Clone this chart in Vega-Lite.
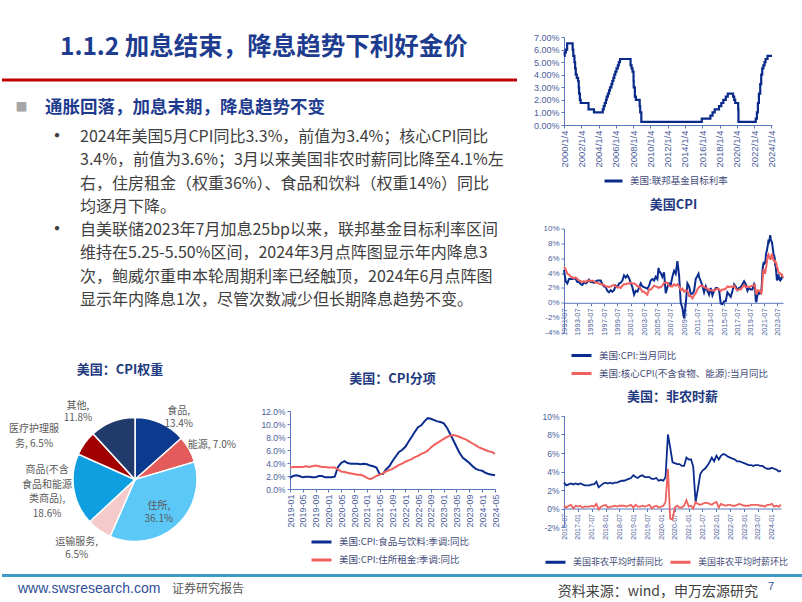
{
  "$schema": "https://vega.github.io/schema/vega-lite/v6.json",
  "background": "white",
  "padding": {"left": 0, "top": 33, "right": 0, "bottom": 0},
  "spacing": 4.5,
  "resolve": {"scale": {"color": "independent"}, "legend": {"color": "independent"}},
  "config": {
    "view": {"stroke": null},
    "font": "Noto Sans CJK SC",
    "axis": {"labelFont": "Liberation Sans", "labelColor": "#4B5D9A", "domainColor": "#5A78BE", "tickColor": "#5A78BE", "tickSize": 3, "grid": false, "labelPadding": 2, "labelOverlap": false, "labelFlush": false, "labelBound": false},
    "legend": {"labelFont": "Noto Sans CJK SC", "labelColor": "#3F4A78", "symbolType": "stroke", "symbolStrokeWidth": 3, "labelLimit": 300, "labelOffset": 6},
    "title": {"font": "Noto Sans CJK SC", "fontWeight": "bold", "color": "#1F3A80", "fontSize": 13}
  },
  "vconcat": [
    {
      "spacing": 14,
      "resolve": {"scale": {"color": "independent"}, "legend": {"color": "independent"}},
      "hconcat": [
        {
          "spacing": 50,
          "resolve": {"scale": {"color": "independent"}, "legend": {"color": "independent"}},
          "vconcat": [
            {
              "width": 515,
              "height": 277,
              "data": {"values": [
                {"line": 0, "kind": "heading", "text": "通胀回落，加息末期，降息趋势不变"},
                {"line": 1, "kind": "body", "first": true, "text": "2024年美国5月CPI同比3.3%，前值为3.4%；核心CPI同比"},
                {"line": 2, "kind": "body", "text": "3.4%，前值为3.6%；3月以来美国非农时薪同比降至4.1%左"},
                {"line": 3, "kind": "body", "text": "右，住房租金（权重36%）、食品和饮料（权重14%）同比"},
                {"line": 4, "kind": "body", "text": "均逐月下降。"},
                {"line": 5, "kind": "body", "first": true, "text": "自美联储2023年7月加息25bp以来，联邦基金目标利率区间"},
                {"line": 6, "kind": "body", "text": "维持在5.25-5.50%区间，2024年3月点阵图显示年内降息3"},
                {"line": 7, "kind": "body", "text": "次，鲍威尔重申本轮周期利率已经触顶，2024年6月点阵图"},
                {"line": 8, "kind": "body", "text": "显示年内降息1次，尽管次数减少但长期降息趋势不变。"}
              ]},
              "layer": [
                {"data": {"values": [{}]}, "mark": {"type": "rule", "color": "#C00000", "strokeWidth": 3}, "encoding": {"y": {"value": 43}}},
                {"data": {"values": [{}]}, "mark": {"type": "text", "align": "left", "baseline": "middle", "font": "Noto Sans CJK SC", "fontWeight": "bold", "fontSize": 24.5, "color": "#1E3C8F"}, "encoding": {"x": {"value": 58}, "y": {"value": 11}, "text": {"value": "1.1.2 加息结束，降息趋势下利好金价"}}},
                {
                  "transform": [{"filter": "datum.kind === 'heading'"}],
                  "mark": {"type": "text", "align": "left", "baseline": "middle", "font": "Noto Sans CJK SC", "fontWeight": "bold", "fontSize": 17.5, "color": "#1E3C8F", "dy": -7},
                  "encoding": {"x": {"value": 43}, "y": {"field": "line", "type": "quantitative", "scale": {"domain": [-3.337, 8.557], "reverse": true}, "axis": null}, "text": {"field": "text"}}
                },
                {
                  "transform": [{"filter": "datum.kind === 'heading'"}],
                  "mark": {"type": "text", "align": "center", "baseline": "middle", "font": "Noto Sans CJK SC", "fontSize": 12, "color": "#A6A6A6", "dy": -7},
                  "encoding": {"x": {"value": 19.5}, "y": {"field": "line", "type": "quantitative", "scale": {"domain": [-3.337, 8.557], "reverse": true}, "axis": null}, "text": {"value": "■"}}
                },
                {
                  "transform": [{"filter": "datum.first === true"}],
                  "mark": {"type": "text", "align": "center", "baseline": "middle", "font": "Noto Sans CJK SC", "fontSize": 20, "color": "#404040", "dy": -1},
                  "encoding": {"x": {"value": 55}, "y": {"field": "line", "type": "quantitative", "scale": {"domain": [-3.337, 8.557], "reverse": true}, "axis": null}, "text": {"value": "•"}}
                },
                {
                  "transform": [{"filter": "datum.kind === 'body'"}],
                  "mark": {"type": "text", "align": "left", "baseline": "middle", "font": "Noto Sans CJK SC", "fontSize": 16, "color": "#404040", "dy": -1},
                  "encoding": {"x": {"value": 78}, "y": {"field": "line", "type": "quantitative", "scale": {"domain": [-3.337, 8.557], "reverse": true}, "axis": null}, "text": {"field": "text"}}
                }
              ]
            },
            {
              "spacing": -8,
              "resolve": {"scale": {"color": "independent"}, "legend": {"color": "independent"}},
              "hconcat": [
                {
                  "width": 266,
                  "height": 138,
                  "title": {"text": "美国：CPI权重", "dx": -15, "offset": 0},
                  "data": {"values": [
                    {"idx": 1, "cat": "食品", "w": 13.4, "label": "食品,\n13.4%"},
                    {"idx": 2, "cat": "能源", "w": 7.0, "label": "能源, 7.0%"},
                    {"idx": 3, "cat": "住所", "w": 36.1, "label": "住所,\n36.1%"},
                    {"idx": 4, "cat": "运输服务", "w": 6.5, "label": "运输服务,\n6.5%"},
                    {"idx": 5, "cat": "商品(不含食品和能源类商品)", "w": 18.6, "label": "商品(不含\n食品和能源\n类商品),\n18.6%"},
                    {"idx": 6, "cat": "医疗护理服务", "w": 6.5, "label": "医疗护理服\n务, 6.5%"},
                    {"idx": 7, "cat": "其他", "w": 11.8, "label": "其他,\n11.8%"}
                  ]},
                  "encoding": {
                    "theta": {"field": "w", "type": "quantitative", "stack": true},
                    "order": {"field": "idx", "type": "quantitative"},
                    "x": {"value": 133},
                    "y": {"value": 69}
                  },
                  "layer": [
                    {
                      "mark": {"type": "arc", "outerRadius": 62, "stroke": "white", "strokeWidth": 1.5, "yOffset": -0.5},
                      "encoding": {"color": {"field": "cat", "type": "nominal", "legend": null, "scale": {"domain": ["食品", "能源", "住所", "运输服务", "商品(不含食品和能源类商品)", "医疗护理服务", "其他"], "range": ["#0B3A8E", "#E35B5B", "#5BC8F7", "#F4CACA", "#0F9FE0", "#A00000", "#1F3A6B"]}}}
                    },
                    {
                      "mark": {"type": "text", "radius": 80, "dx": 11, "dy": 4, "lineBreak": "\n", "fontSize": 10, "lineHeight": 13, "color": "#595959", "align": "center", "baseline": "middle"},
                      "encoding": {"detail": {"field": "cat"}, "text": {"condition": {"test": "datum.idx === 1", "field": "label"}, "value": ""}}
                    },
                    {
                      "mark": {"type": "text", "radius": 80, "dx": 7, "dy": 4, "lineBreak": "\n", "fontSize": 10, "lineHeight": 13, "color": "#595959", "align": "center", "baseline": "middle"},
                      "encoding": {"detail": {"field": "cat"}, "text": {"condition": {"test": "datum.idx === 2", "field": "label"}, "value": ""}}
                    },
                    {
                      "mark": {"type": "text", "radius": 36, "dx": 0, "dy": -1, "lineBreak": "\n", "fontSize": 10, "lineHeight": 13, "color": "#595959", "align": "center", "baseline": "middle"},
                      "encoding": {"detail": {"field": "cat"}, "text": {"condition": {"test": "datum.idx === 3", "field": "label"}, "value": ""}}
                    },
                    {
                      "mark": {"type": "text", "radius": 80, "dx": -12, "dy": -3, "lineBreak": "\n", "fontSize": 10, "lineHeight": 13, "color": "#595959", "align": "center", "baseline": "middle"},
                      "encoding": {"detail": {"field": "cat"}, "text": {"condition": {"test": "datum.idx === 4", "field": "label"}, "value": ""}}
                    },
                    {
                      "mark": {"type": "text", "radius": 80, "dx": -9, "dy": -23, "lineBreak": "\n", "fontSize": 10, "lineHeight": 14.5, "color": "#595959", "align": "center", "baseline": "middle"},
                      "encoding": {"detail": {"field": "cat"}, "text": {"condition": {"test": "datum.idx === 5", "field": "label"}, "value": ""}}
                    },
                    {
                      "mark": {"type": "text", "radius": 80, "dx": -36, "dy": -4, "lineBreak": "\n", "fontSize": 10, "lineHeight": 15, "color": "#595959", "align": "center", "baseline": "middle"},
                      "encoding": {"detail": {"field": "cat"}, "text": {"condition": {"test": "datum.idx === 6", "field": "label"}, "value": ""}}
                    },
                    {
                      "mark": {"type": "text", "radius": 80, "dx": -28, "dy": 1, "lineBreak": "\n", "fontSize": 10, "lineHeight": 12, "color": "#595959", "align": "center", "baseline": "middle"},
                      "encoding": {"detail": {"field": "cat"}, "text": {"condition": {"test": "datum.idx === 7", "field": "label"}, "value": ""}}
                    }
                  ]
                },
                {
                  "width": 205,
                  "height": 78,
                  "title": {"text": "美国：CPI分项", "offset": 21.5},
                  "data": {"values": [
                    {"d": "2019-01", "s1": 1.7, "s2": 3.3}, {"d": "2019-02", "s1": 2.0, "s2": 3.4}, {"d": "2019-03", "s1": 2.1, "s2": 3.4}, {"d": "2019-04", "s1": 2.0, "s2": 3.4},
                    {"d": "2019-05", "s1": 1.8, "s2": 3.4}, {"d": "2019-06", "s1": 1.9, "s2": 3.5}, {"d": "2019-07", "s1": 1.9, "s2": 3.4}, {"d": "2019-08", "s1": 1.8, "s2": 3.5},
                    {"d": "2019-09", "s1": 1.8, "s2": 3.6}, {"d": "2019-10", "s1": 2.0, "s2": 3.5}, {"d": "2019-11", "s1": 2.0, "s2": 3.4}, {"d": "2019-12", "s1": 1.8, "s2": 3.4},
                    {"d": "2020-01", "s1": 1.8, "s2": 3.3}, {"d": "2020-02", "s1": 1.8, "s2": 3.3}, {"d": "2020-03", "s1": 1.9, "s2": 3.3}, {"d": "2020-04", "s1": 3.4, "s2": 3.0},
                    {"d": "2020-05", "s1": 4.0, "s2": 2.7}, {"d": "2020-06", "s1": 4.3, "s2": 2.6}, {"d": "2020-07", "s1": 4.0, "s2": 2.5}, {"d": "2020-08", "s1": 3.9, "s2": 2.4},
                    {"d": "2020-09", "s1": 3.9, "s2": 2.3}, {"d": "2020-10", "s1": 3.9, "s2": 2.2}, {"d": "2020-11", "s1": 3.8, "s2": 2.2}, {"d": "2020-12", "s1": 3.9, "s2": 2.0},
                    {"d": "2021-01", "s1": 3.8, "s2": 1.7}, {"d": "2021-02", "s1": 3.6, "s2": 1.5}, {"d": "2021-03", "s1": 3.5, "s2": 1.7}, {"d": "2021-04", "s1": 3.3, "s2": 2.0},
                    {"d": "2021-05", "s1": 2.3, "s2": 2.2}, {"d": "2021-06", "s1": 2.3, "s2": 2.4}, {"d": "2021-07", "s1": 3.0, "s2": 2.7}, {"d": "2021-08", "s1": 3.5, "s2": 2.9},
                    {"d": "2021-09", "s1": 4.3, "s2": 3.1}, {"d": "2021-10", "s1": 5.0, "s2": 3.4}, {"d": "2021-11", "s1": 5.7, "s2": 3.7}, {"d": "2021-12", "s1": 6.0, "s2": 3.9},
                    {"d": "2022-01", "s1": 6.5, "s2": 4.2}, {"d": "2022-02", "s1": 7.3, "s2": 4.4}, {"d": "2022-03", "s1": 8.0, "s2": 4.6}, {"d": "2022-04", "s1": 8.8, "s2": 4.9},
                    {"d": "2022-05", "s1": 9.5, "s2": 5.1}, {"d": "2022-06", "s1": 9.8, "s2": 5.4}, {"d": "2022-07", "s1": 10.4, "s2": 5.6}, {"d": "2022-08", "s1": 10.9, "s2": 5.9},
                    {"d": "2022-09", "s1": 10.8, "s2": 6.4}, {"d": "2022-10", "s1": 10.6, "s2": 6.8}, {"d": "2022-11", "s1": 10.4, "s2": 7.1}, {"d": "2022-12", "s1": 10.3, "s2": 7.4},
                    {"d": "2023-01", "s1": 10.1, "s2": 7.7}, {"d": "2023-02", "s1": 9.4, "s2": 8.0}, {"d": "2023-03", "s1": 8.5, "s2": 8.2}, {"d": "2023-04", "s1": 7.5, "s2": 8.3},
                    {"d": "2023-05", "s1": 6.5, "s2": 8.2}, {"d": "2023-06", "s1": 5.5, "s2": 8.0}, {"d": "2023-07", "s1": 4.8, "s2": 7.8}, {"d": "2023-08", "s1": 4.4, "s2": 7.6},
                    {"d": "2023-09", "s1": 4.0, "s2": 7.3}, {"d": "2023-10", "s1": 3.5, "s2": 7.0}, {"d": "2023-11", "s1": 3.1, "s2": 6.7}, {"d": "2023-12", "s1": 2.9, "s2": 6.4},
                    {"d": "2024-01", "s1": 2.8, "s2": 6.2}, {"d": "2024-02", "s1": 2.5, "s2": 6.0}, {"d": "2024-03", "s1": 2.3, "s2": 5.8}, {"d": "2024-04", "s1": 2.2, "s2": 5.7},
                    {"d": "2024-05", "s1": 2.1, "s2": 5.4}
                  ]},
                  "transform": [{"fold": ["s1", "s2"], "as": ["k", "v"]}],
                  "mark": {"type": "line", "strokeWidth": 2},
                  "encoding": {
                    "x": {"field": "d", "type": "temporal", "title": null,
                      "scale": {"type": "utc", "domain": [{"year": 2019, "month": 1, "date": 1, "utc": true}, {"year": 2024, "month": 5, "date": 1, "utc": true}]},
                      "axis": {"tickCount": {"interval": "month", "step": 4}, "format": "%Y-%m", "labelAngle": -90, "labelFontSize": 9}},
                    "y": {"field": "v", "type": "quantitative", "title": null, "scale": {"domain": [0, 12]},
                      "axis": {"values": [0, 2, 4, 6, 8, 10, 12], "labelExpr": "format(datum.value, '.1f') + '%'", "labelFontSize": 8.5}},
                    "color": {"field": "k", "type": "nominal",
                      "scale": {"domain": ["s1", "s2"], "range": ["#0B2C8F", "#F0605D"]},
                      "legend": {"title": null, "orient": "none", "legendX": 20, "legendY": 119.5, "direction": "vertical", "symbolSize": 400, "rowPadding": -6, "labelFontSize": 9.5,
                        "labelExpr": "datum.label === 's1' ? '美国:CPI:食品与饮料:季调:同比' : '美国:CPI:住所租金:季调:同比'"}}
                  }
                }
              ]
            }
          ]
        },
        {
          "spacing": 10.5,
          "resolve": {"scale": {"color": "independent"}, "legend": {"color": "independent"}},
          "vconcat": [
            {
              "width": 208,
              "height": 88,
              "data": {"values": [
                {"date": "2000-01-04", "rate": 5.5}, {"date": "2000-02-02", "rate": 5.75}, {"date": "2000-03-21", "rate": 6.0}, {"date": "2000-05-16", "rate": 6.5},
                {"date": "2001-01-03", "rate": 6.0}, {"date": "2001-01-31", "rate": 5.5}, {"date": "2001-03-20", "rate": 5.0}, {"date": "2001-04-18", "rate": 4.5},
                {"date": "2001-05-15", "rate": 4.0}, {"date": "2001-06-27", "rate": 3.75}, {"date": "2001-08-21", "rate": 3.5}, {"date": "2001-09-17", "rate": 3.0},
                {"date": "2001-10-02", "rate": 2.5}, {"date": "2001-11-06", "rate": 2.0}, {"date": "2001-12-11", "rate": 1.75}, {"date": "2002-11-06", "rate": 1.25},
                {"date": "2003-06-25", "rate": 1.0}, {"date": "2004-06-30", "rate": 1.25}, {"date": "2004-08-10", "rate": 1.5}, {"date": "2004-09-21", "rate": 1.75},
                {"date": "2004-11-10", "rate": 2.0}, {"date": "2004-12-14", "rate": 2.25}, {"date": "2005-02-02", "rate": 2.5}, {"date": "2005-03-22", "rate": 2.75},
                {"date": "2005-05-03", "rate": 3.0}, {"date": "2005-06-30", "rate": 3.25}, {"date": "2005-08-09", "rate": 3.5}, {"date": "2005-09-20", "rate": 3.75},
                {"date": "2005-11-01", "rate": 4.0}, {"date": "2005-12-13", "rate": 4.25}, {"date": "2006-01-31", "rate": 4.5}, {"date": "2006-03-28", "rate": 4.75},
                {"date": "2006-05-10", "rate": 5.0}, {"date": "2006-06-29", "rate": 5.25}, {"date": "2007-09-18", "rate": 4.75}, {"date": "2007-10-31", "rate": 4.5},
                {"date": "2007-12-11", "rate": 4.25}, {"date": "2008-01-22", "rate": 3.5}, {"date": "2008-01-30", "rate": 3.0}, {"date": "2008-03-18", "rate": 2.25},
                {"date": "2008-04-30", "rate": 2.0}, {"date": "2008-10-08", "rate": 1.5}, {"date": "2008-10-29", "rate": 1.0}, {"date": "2008-12-16", "rate": 0.25},
                {"date": "2015-12-16", "rate": 0.5}, {"date": "2016-12-14", "rate": 0.75}, {"date": "2017-03-15", "rate": 1.0}, {"date": "2017-06-14", "rate": 1.25},
                {"date": "2017-12-13", "rate": 1.5}, {"date": "2018-03-21", "rate": 1.75}, {"date": "2018-06-13", "rate": 2.0}, {"date": "2018-09-26", "rate": 2.25},
                {"date": "2018-12-19", "rate": 2.5}, {"date": "2019-07-31", "rate": 2.25}, {"date": "2019-09-18", "rate": 2.0}, {"date": "2019-10-30", "rate": 1.75},
                {"date": "2020-03-03", "rate": 1.25}, {"date": "2020-03-15", "rate": 0.25}, {"date": "2022-03-16", "rate": 0.5}, {"date": "2022-05-04", "rate": 1.0},
                {"date": "2022-06-15", "rate": 1.75}, {"date": "2022-07-27", "rate": 2.5}, {"date": "2022-09-21", "rate": 3.25}, {"date": "2022-11-02", "rate": 4.0},
                {"date": "2022-12-14", "rate": 4.5}, {"date": "2023-02-01", "rate": 4.75}, {"date": "2023-03-22", "rate": 5.0}, {"date": "2023-05-03", "rate": 5.25},
                {"date": "2023-07-26", "rate": 5.5}, {"date": "2024-02-01", "rate": 5.5}
              ]},
              "transform": [{"fold": ["rate"], "as": ["k", "v"]}],
              "mark": {"type": "line", "interpolate": "step-after", "strokeWidth": 2.2},
              "encoding": {
                "x": {"field": "date", "type": "temporal", "title": null,
                  "scale": {"type": "utc", "domain": [{"year": 2000, "month": 1, "date": 4, "utc": true}, {"year": 2024, "month": 2, "date": 1, "utc": true}]},
                  "axis": {"format": "%Y/%-m/%-d", "labelAngle": -90, "labelFontSize": 9.5,
                    "values": [
                      {"year": 2000, "month": 1, "date": 4, "utc": true}, {"year": 2002, "month": 1, "date": 4, "utc": true}, {"year": 2004, "month": 1, "date": 4, "utc": true},
                      {"year": 2006, "month": 1, "date": 4, "utc": true}, {"year": 2008, "month": 1, "date": 4, "utc": true}, {"year": 2010, "month": 1, "date": 4, "utc": true},
                      {"year": 2012, "month": 1, "date": 4, "utc": true}, {"year": 2014, "month": 1, "date": 4, "utc": true}, {"year": 2016, "month": 1, "date": 4, "utc": true},
                      {"year": 2018, "month": 1, "date": 4, "utc": true}, {"year": 2020, "month": 1, "date": 4, "utc": true}, {"year": 2022, "month": 1, "date": 4, "utc": true},
                      {"year": 2024, "month": 1, "date": 4, "utc": true}]}},
                "y": {"field": "v", "type": "quantitative", "title": null, "scale": {"domain": [0, 7]},
                  "axis": {"values": [0, 1, 2, 3, 4, 5, 6, 7], "labelExpr": "format(datum.value, '.2f') + '%'", "labelFontSize": 9}},
                "color": {"field": "k", "type": "nominal",
                  "scale": {"domain": ["rate"], "range": ["#0A2A8A"]},
                  "legend": {"title": null, "orient": "none", "legendX": 39, "legendY": 133.5, "symbolSize": 324, "labelFontSize": 9.5,
                    "labelExpr": "'美国:联邦基金目标利率'"}}
              }
            },
            {
              "width": 219,
              "height": 104,
              "title": {"text": "美国CPI", "offset": 13},
              "data": {"values": [
                {"d": "1991-07", "s1": 4.4, "s2": 4.8}, {"d": "1991-10", "s1": 2.9, "s2": 4.5}, {"d": "1992-01", "s1": 2.6, "s2": 3.9}, {"d": "1992-04", "s1": 3.2, "s2": 3.8},
                {"d": "1992-07", "s1": 3.2, "s2": 3.5}, {"d": "1992-10", "s1": 3.2, "s2": 3.4}, {"d": "1993-01", "s1": 3.3, "s2": 3.3}, {"d": "1993-04", "s1": 3.2, "s2": 3.4},
                {"d": "1993-07", "s1": 2.8, "s2": 3.2}, {"d": "1993-10", "s1": 2.8, "s2": 3.0}, {"d": "1994-01", "s1": 2.5, "s2": 2.9}, {"d": "1994-04", "s1": 2.4, "s2": 2.8},
                {"d": "1994-07", "s1": 2.8, "s2": 2.9}, {"d": "1994-10", "s1": 2.6, "s2": 2.8}, {"d": "1995-01", "s1": 2.8, "s2": 3.0}, {"d": "1995-04", "s1": 3.1, "s2": 3.0},
                {"d": "1995-07", "s1": 2.8, "s2": 2.9}, {"d": "1995-10", "s1": 2.8, "s2": 3.0}, {"d": "1996-01", "s1": 2.7, "s2": 2.9}, {"d": "1996-04", "s1": 2.9, "s2": 2.7},
                {"d": "1996-07", "s1": 3.0, "s2": 2.7}, {"d": "1996-10", "s1": 3.0, "s2": 2.6}, {"d": "1997-01", "s1": 3.0, "s2": 2.5}, {"d": "1997-04", "s1": 2.5, "s2": 2.5},
                {"d": "1997-07", "s1": 2.2, "s2": 2.4}, {"d": "1997-10", "s1": 2.1, "s2": 2.2}, {"d": "1998-01", "s1": 1.6, "s2": 2.2}, {"d": "1998-04", "s1": 1.4, "s2": 2.1},
                {"d": "1998-07", "s1": 1.7, "s2": 2.2}, {"d": "1998-10", "s1": 1.5, "s2": 2.3}, {"d": "1999-01", "s1": 1.7, "s2": 2.4}, {"d": "1999-04", "s1": 2.3, "s2": 2.2},
                {"d": "1999-07", "s1": 2.1, "s2": 2.1}, {"d": "1999-10", "s1": 2.6, "s2": 2.1}, {"d": "2000-01", "s1": 2.7, "s2": 2.0}, {"d": "2000-04", "s1": 3.0, "s2": 2.3},
                {"d": "2000-07", "s1": 3.7, "s2": 2.5}, {"d": "2000-10", "s1": 3.4, "s2": 2.5}, {"d": "2001-01", "s1": 3.7, "s2": 2.6}, {"d": "2001-04", "s1": 3.3, "s2": 2.6},
                {"d": "2001-07", "s1": 2.7, "s2": 2.7}, {"d": "2001-10", "s1": 2.1, "s2": 2.6}, {"d": "2002-01", "s1": 1.1, "s2": 2.6}, {"d": "2002-04", "s1": 1.6, "s2": 2.5},
                {"d": "2002-07", "s1": 1.5, "s2": 2.2}, {"d": "2002-10", "s1": 2.0, "s2": 2.2}, {"d": "2003-01", "s1": 2.6, "s2": 1.9}, {"d": "2003-04", "s1": 2.2, "s2": 1.5},
                {"d": "2003-07", "s1": 2.1, "s2": 1.5}, {"d": "2003-10", "s1": 2.0, "s2": 1.3}, {"d": "2004-01", "s1": 1.9, "s2": 1.1}, {"d": "2004-04", "s1": 2.3, "s2": 1.8},
                {"d": "2004-07", "s1": 3.0, "s2": 1.8}, {"d": "2004-10", "s1": 3.2, "s2": 2.0}, {"d": "2005-01", "s1": 3.0, "s2": 2.3}, {"d": "2005-04", "s1": 3.5, "s2": 2.2},
                {"d": "2005-07", "s1": 3.2, "s2": 2.1}, {"d": "2005-09", "s1": 4.7, "s2": 2.0}, {"d": "2005-10", "s1": 4.3, "s2": 2.1}, {"d": "2006-01", "s1": 4.0, "s2": 2.1},
                {"d": "2006-04", "s1": 3.5, "s2": 2.3}, {"d": "2006-07", "s1": 4.1, "s2": 2.7}, {"d": "2006-10", "s1": 1.3, "s2": 2.7}, {"d": "2007-01", "s1": 2.1, "s2": 2.7},
                {"d": "2007-04", "s1": 2.6, "s2": 2.3}, {"d": "2007-07", "s1": 2.4, "s2": 2.2}, {"d": "2007-10", "s1": 3.5, "s2": 2.2}, {"d": "2008-01", "s1": 4.3, "s2": 2.5},
                {"d": "2008-04", "s1": 3.9, "s2": 2.3}, {"d": "2008-07", "s1": 5.6, "s2": 2.5}, {"d": "2008-10", "s1": 3.7, "s2": 2.2}, {"d": "2009-01", "s1": 0.0, "s2": 1.7},
                {"d": "2009-04", "s1": -0.7, "s2": 1.9}, {"d": "2009-07", "s1": -2.1, "s2": 1.5}, {"d": "2009-10", "s1": -0.2, "s2": 1.7}, {"d": "2010-01", "s1": 2.6, "s2": 1.6},
                {"d": "2010-04", "s1": 2.2, "s2": 0.9}, {"d": "2010-07", "s1": 1.2, "s2": 0.9}, {"d": "2010-10", "s1": 1.2, "s2": 0.6}, {"d": "2011-01", "s1": 1.6, "s2": 1.0},
                {"d": "2011-04", "s1": 3.2, "s2": 1.3}, {"d": "2011-07", "s1": 3.6, "s2": 1.8}, {"d": "2011-09", "s1": 3.9, "s2": 2.0}, {"d": "2011-10", "s1": 3.5, "s2": 2.1},
                {"d": "2012-01", "s1": 2.9, "s2": 2.3}, {"d": "2012-04", "s1": 2.3, "s2": 2.3}, {"d": "2012-07", "s1": 1.4, "s2": 2.1}, {"d": "2012-10", "s1": 2.2, "s2": 2.0},
                {"d": "2013-01", "s1": 1.6, "s2": 1.9}, {"d": "2013-04", "s1": 1.1, "s2": 1.7}, {"d": "2013-07", "s1": 2.0, "s2": 1.7}, {"d": "2013-10", "s1": 1.0, "s2": 1.7},
                {"d": "2014-01", "s1": 1.6, "s2": 1.6}, {"d": "2014-04", "s1": 2.0, "s2": 1.8}, {"d": "2014-07", "s1": 2.0, "s2": 1.9}, {"d": "2014-10", "s1": 1.7, "s2": 1.8},
                {"d": "2015-01", "s1": -0.1, "s2": 1.6}, {"d": "2015-04", "s1": -0.2, "s2": 1.8}, {"d": "2015-07", "s1": 0.2, "s2": 1.8}, {"d": "2015-10", "s1": 0.2, "s2": 1.9},
                {"d": "2016-01", "s1": 1.4, "s2": 2.2}, {"d": "2016-04", "s1": 1.1, "s2": 2.1}, {"d": "2016-07", "s1": 0.8, "s2": 2.2}, {"d": "2016-10", "s1": 1.6, "s2": 2.1},
                {"d": "2017-01", "s1": 2.5, "s2": 2.3}, {"d": "2017-04", "s1": 2.2, "s2": 1.9}, {"d": "2017-07", "s1": 1.7, "s2": 1.7}, {"d": "2017-10", "s1": 2.0, "s2": 1.8},
                {"d": "2018-01", "s1": 2.1, "s2": 1.8}, {"d": "2018-04", "s1": 2.5, "s2": 2.1}, {"d": "2018-07", "s1": 2.9, "s2": 2.4}, {"d": "2018-10", "s1": 2.5, "s2": 2.1},
                {"d": "2019-01", "s1": 1.6, "s2": 2.2}, {"d": "2019-04", "s1": 2.0, "s2": 2.1}, {"d": "2019-07", "s1": 1.8, "s2": 2.2}, {"d": "2019-10", "s1": 1.8, "s2": 2.3},
                {"d": "2020-01", "s1": 2.5, "s2": 2.3}, {"d": "2020-02", "s1": 2.3, "s2": 2.4}, {"d": "2020-03", "s1": 1.5, "s2": 2.1}, {"d": "2020-04", "s1": 0.3, "s2": 1.4},
                {"d": "2020-05", "s1": 0.1, "s2": 1.2}, {"d": "2020-06", "s1": 0.6, "s2": 1.2}, {"d": "2020-07", "s1": 1.0, "s2": 1.6}, {"d": "2020-08", "s1": 1.3, "s2": 1.7},
                {"d": "2020-09", "s1": 1.4, "s2": 1.7}, {"d": "2020-10", "s1": 1.2, "s2": 1.6}, {"d": "2020-11", "s1": 1.2, "s2": 1.6}, {"d": "2020-12", "s1": 1.4, "s2": 1.6},
                {"d": "2021-01", "s1": 1.4, "s2": 1.4}, {"d": "2021-02", "s1": 1.7, "s2": 1.3}, {"d": "2021-03", "s1": 2.6, "s2": 1.6}, {"d": "2021-04", "s1": 4.2, "s2": 3.0},
                {"d": "2021-05", "s1": 5.0, "s2": 3.8}, {"d": "2021-06", "s1": 5.4, "s2": 4.5}, {"d": "2021-07", "s1": 5.4, "s2": 4.3}, {"d": "2021-08", "s1": 5.3, "s2": 4.0},
                {"d": "2021-09", "s1": 5.4, "s2": 4.0}, {"d": "2021-10", "s1": 6.2, "s2": 4.6}, {"d": "2021-11", "s1": 6.8, "s2": 4.9}, {"d": "2021-12", "s1": 7.0, "s2": 5.5},
                {"d": "2022-01", "s1": 7.5, "s2": 6.0}, {"d": "2022-02", "s1": 7.9, "s2": 6.4}, {"d": "2022-03", "s1": 8.5, "s2": 6.5}, {"d": "2022-04", "s1": 8.3, "s2": 6.2},
                {"d": "2022-05", "s1": 8.6, "s2": 6.0}, {"d": "2022-06", "s1": 9.1, "s2": 5.9}, {"d": "2022-07", "s1": 8.5, "s2": 5.9}, {"d": "2022-08", "s1": 8.3, "s2": 6.3},
                {"d": "2022-09", "s1": 8.2, "s2": 6.6}, {"d": "2022-10", "s1": 7.7, "s2": 6.3}, {"d": "2022-11", "s1": 7.1, "s2": 6.0}, {"d": "2022-12", "s1": 6.5, "s2": 5.7},
                {"d": "2023-01", "s1": 6.4, "s2": 5.6}, {"d": "2023-02", "s1": 6.0, "s2": 5.5}, {"d": "2023-03", "s1": 5.0, "s2": 5.6}, {"d": "2023-04", "s1": 4.9, "s2": 5.5},
                {"d": "2023-05", "s1": 4.0, "s2": 5.3}, {"d": "2023-06", "s1": 3.0, "s2": 4.8}, {"d": "2023-07", "s1": 3.2, "s2": 4.7}, {"d": "2023-08", "s1": 3.7, "s2": 4.3},
                {"d": "2023-09", "s1": 3.7, "s2": 4.1}, {"d": "2023-10", "s1": 3.2, "s2": 4.0}, {"d": "2023-11", "s1": 3.1, "s2": 4.0}, {"d": "2023-12", "s1": 3.4, "s2": 3.9},
                {"d": "2024-01", "s1": 3.1, "s2": 3.9}, {"d": "2024-02", "s1": 3.2, "s2": 3.8}, {"d": "2024-03", "s1": 3.5, "s2": 3.8}, {"d": "2024-04", "s1": 3.4, "s2": 3.6},
                {"d": "2024-05", "s1": 3.3, "s2": 3.4}
              ]},
              "transform": [{"fold": ["s1", "s2"], "as": ["k", "v"]}],
              "mark": {"type": "line", "strokeWidth": 2},
              "encoding": {
                "x": {"field": "d", "type": "temporal", "title": null,
                  "scale": {"type": "utc", "domain": [{"year": 1991, "month": 7, "date": 1, "utc": true}, {"year": 2024, "month": 5, "date": 1, "utc": true}]},
                  "axis": {"format": "%Y-%m", "labelAngle": -90, "labelFontSize": 7.5, "offset": -29.7,
                    "values": [
                      {"year": 1991, "month": 7, "date": 1, "utc": true}, {"year": 1993, "month": 7, "date": 1, "utc": true}, {"year": 1995, "month": 7, "date": 1, "utc": true},
                      {"year": 1997, "month": 7, "date": 1, "utc": true}, {"year": 1999, "month": 7, "date": 1, "utc": true}, {"year": 2001, "month": 7, "date": 1, "utc": true},
                      {"year": 2003, "month": 7, "date": 1, "utc": true}, {"year": 2005, "month": 7, "date": 1, "utc": true}, {"year": 2007, "month": 7, "date": 1, "utc": true},
                      {"year": 2009, "month": 7, "date": 1, "utc": true}, {"year": 2011, "month": 7, "date": 1, "utc": true}, {"year": 2013, "month": 7, "date": 1, "utc": true},
                      {"year": 2015, "month": 7, "date": 1, "utc": true}, {"year": 2017, "month": 7, "date": 1, "utc": true}, {"year": 2019, "month": 7, "date": 1, "utc": true},
                      {"year": 2021, "month": 7, "date": 1, "utc": true}, {"year": 2023, "month": 7, "date": 1, "utc": true}]}},
                "y": {"field": "v", "type": "quantitative", "title": null, "scale": {"domain": [-4, 10]},
                  "axis": {"values": [-4, -2, 0, 2, 4, 6, 8, 10], "labelExpr": "datum.value + '%'", "labelFontSize": 8}},
                "color": {"field": "k", "type": "nominal",
                  "scale": {"domain": ["s1", "s2"], "range": ["#0B2C8F", "#F0605D"]},
                  "legend": {"title": null, "orient": "none", "legendX": 6, "legendY": 115.5, "direction": "vertical", "symbolSize": 400, "rowPadding": -7, "labelFontSize": 9.5,
                    "labelExpr": "datum.label === 's1' ? '美国:CPI:当月同比' : '美国:核心CPI(不含食物、能源):当月同比'"}}
              }
            },
            {
              "width": 217,
              "height": 111,
              "title": {"text": "美国：非农时薪", "offset": 8},
              "data": {"values": [
                {"d": "2016-07", "s1": 2.8, "s2": 0.3}, {"d": "2016-08", "s1": 2.5, "s2": 0.1}, {"d": "2016-09", "s1": 2.6, "s2": 0.3}, {"d": "2016-10", "s1": 2.7, "s2": 0.4},
                {"d": "2016-11", "s1": 2.6, "s2": 0.0}, {"d": "2016-12", "s1": 2.7, "s2": 0.3}, {"d": "2017-01", "s1": 2.6, "s2": 0.2}, {"d": "2017-02", "s1": 2.7, "s2": 0.3},
                {"d": "2017-03", "s1": 2.6, "s2": 0.1}, {"d": "2017-04", "s1": 2.5, "s2": 0.2}, {"d": "2017-05", "s1": 2.5, "s2": 0.2}, {"d": "2017-06", "s1": 2.5, "s2": 0.2},
                {"d": "2017-07", "s1": 2.6, "s2": 0.3}, {"d": "2017-08", "s1": 2.6, "s2": 0.2}, {"d": "2017-09", "s1": 2.9, "s2": 0.5}, {"d": "2017-10", "s1": 2.3, "s2": -0.1},
                {"d": "2017-11", "s1": 2.5, "s2": 0.2}, {"d": "2017-12", "s1": 2.7, "s2": 0.3}, {"d": "2018-01", "s1": 2.8, "s2": 0.4}, {"d": "2018-02", "s1": 2.7, "s2": 0.1},
                {"d": "2018-03", "s1": 2.8, "s2": 0.2}, {"d": "2018-04", "s1": 2.7, "s2": 0.2}, {"d": "2018-05", "s1": 2.8, "s2": 0.3}, {"d": "2018-06", "s1": 2.8, "s2": 0.2},
                {"d": "2018-07", "s1": 2.9, "s2": 0.3}, {"d": "2018-08", "s1": 3.0, "s2": 0.3}, {"d": "2018-09", "s1": 3.0, "s2": 0.3}, {"d": "2018-10", "s1": 3.1, "s2": 0.2},
                {"d": "2018-11", "s1": 3.2, "s2": 0.3}, {"d": "2018-12", "s1": 3.3, "s2": 0.4}, {"d": "2019-01", "s1": 3.6, "s2": 0.1}, {"d": "2019-02", "s1": 3.4, "s2": 0.4},
                {"d": "2019-03", "s1": 3.3, "s2": 0.2}, {"d": "2019-04", "s1": 3.5, "s2": 0.2}, {"d": "2019-05", "s1": 3.6, "s2": 0.3}, {"d": "2019-06", "s1": 3.4, "s2": 0.2},
                {"d": "2019-07", "s1": 3.4, "s2": 0.3}, {"d": "2019-08", "s1": 3.4, "s2": 0.4}, {"d": "2019-09", "s1": 3.2, "s2": 0.0}, {"d": "2019-10", "s1": 3.2, "s2": 0.2},
                {"d": "2019-11", "s1": 3.3, "s2": 0.3}, {"d": "2019-12", "s1": 3.0, "s2": 0.1}, {"d": "2020-01", "s1": 3.1, "s2": 0.2}, {"d": "2020-02", "s1": 3.0, "s2": 0.3},
                {"d": "2020-03", "s1": 3.4, "s2": 0.7}, {"d": "2020-04", "s1": 8.0, "s2": 4.3}, {"d": "2020-05", "s1": 6.6, "s2": -1.1}, {"d": "2020-06", "s1": 5.0, "s2": -1.2},
                {"d": "2020-07", "s1": 4.9, "s2": 0.1}, {"d": "2020-08", "s1": 4.8, "s2": 0.3}, {"d": "2020-09", "s1": 4.8, "s2": 0.1}, {"d": "2020-10", "s1": 4.6, "s2": 0.1},
                {"d": "2020-11", "s1": 4.6, "s2": 0.3}, {"d": "2020-12", "s1": 5.5, "s2": 0.9}, {"d": "2021-01", "s1": 5.3, "s2": 0.2}, {"d": "2021-02", "s1": 5.3, "s2": 0.3},
                {"d": "2021-03", "s1": 4.5, "s2": 0.0}, {"d": "2021-04", "s1": 0.7, "s2": 0.7}, {"d": "2021-05", "s1": 2.1, "s2": 0.5}, {"d": "2021-06", "s1": 3.7, "s2": 0.4},
                {"d": "2021-07", "s1": 4.1, "s2": 0.5}, {"d": "2021-08", "s1": 4.3, "s2": 0.6}, {"d": "2021-09", "s1": 4.6, "s2": 0.6}, {"d": "2021-10", "s1": 5.0, "s2": 0.5},
                {"d": "2021-11", "s1": 5.5, "s2": 0.4}, {"d": "2021-12", "s1": 5.1, "s2": 0.6}, {"d": "2022-01", "s1": 5.7, "s2": 0.7}, {"d": "2022-02", "s1": 5.3, "s2": 0.1},
                {"d": "2022-03", "s1": 5.7, "s2": 0.5}, {"d": "2022-04", "s1": 5.9, "s2": 0.4}, {"d": "2022-05", "s1": 5.8, "s2": 0.3}, {"d": "2022-06", "s1": 5.6, "s2": 0.4},
                {"d": "2022-07", "s1": 5.5, "s2": 0.4}, {"d": "2022-08", "s1": 5.4, "s2": 0.3}, {"d": "2022-09", "s1": 5.3, "s2": 0.3}, {"d": "2022-10", "s1": 5.1, "s2": 0.4},
                {"d": "2022-11", "s1": 5.1, "s2": 0.5}, {"d": "2022-12", "s1": 5.0, "s2": 0.4}, {"d": "2023-01", "s1": 4.9, "s2": 0.3}, {"d": "2023-02", "s1": 4.8, "s2": 0.3},
                {"d": "2023-03", "s1": 4.7, "s2": 0.3}, {"d": "2023-04", "s1": 4.7, "s2": 0.4}, {"d": "2023-05", "s1": 4.6, "s2": 0.4}, {"d": "2023-06", "s1": 4.7, "s2": 0.4},
                {"d": "2023-07", "s1": 4.7, "s2": 0.4}, {"d": "2023-08", "s1": 4.6, "s2": 0.3}, {"d": "2023-09", "s1": 4.6, "s2": 0.3}, {"d": "2023-10", "s1": 4.4, "s2": 0.2},
                {"d": "2023-11", "s1": 4.3, "s2": 0.4}, {"d": "2023-12", "s1": 4.3, "s2": 0.4}, {"d": "2024-01", "s1": 4.4, "s2": 0.5}, {"d": "2024-02", "s1": 4.3, "s2": 0.2},
                {"d": "2024-03", "s1": 4.2, "s2": 0.3}, {"d": "2024-04", "s1": 4.0, "s2": 0.2}, {"d": "2024-05", "s1": 4.1, "s2": 0.4}
              ]},
              "transform": [{"fold": ["s1", "s2"], "as": ["k", "v"]}],
              "mark": {"type": "line", "strokeWidth": 1.8},
              "encoding": {
                "x": {"field": "d", "type": "temporal", "title": null,
                  "scale": {"type": "utc", "domain": [{"year": 2016, "month": 7, "date": 1, "utc": true}, {"year": 2024, "month": 5, "date": 1, "utc": true}]},
                  "axis": {"tickCount": {"interval": "month", "step": 6}, "format": "%Y-%m", "labelAngle": -90, "labelFontSize": 7, "offset": -18.5}},
                "y": {"field": "v", "type": "quantitative", "title": null, "scale": {"domain": [-2, 10]},
                  "axis": {"values": [-2, 0, 2, 4, 6, 8, 10], "labelExpr": "datum.value + '%'", "labelFontSize": 8.5}},
                "color": {"field": "k", "type": "nominal",
                  "scale": {"domain": ["s1", "s2"], "range": ["#0B2C8F", "#F0605D"]},
                  "legend": {"title": null, "orient": "none", "legendX": -20, "legendY": 134.5, "direction": "horizontal", "columnPadding": 0, "symbolSize": 400, "labelFontSize": 9,
                    "labelExpr": "datum.label === 's1' ? '美国非农平均时薪同比' : '美国非农平均时薪环比'"}}
              }
            }
          ]
        }
      ]
    },
    {
      "width": 802,
      "height": 28,
      "data": {"values": [{}]},
      "layer": [
        {"mark": {"type": "rule", "color": "#3B9CC8", "strokeWidth": 3}, "encoding": {"y": {"value": 0}}},
        {"mark": {"type": "text", "align": "left", "baseline": "middle", "fontSize": 14, "color": "#2F4E9A", "font": "Liberation Sans"}, "encoding": {"text": {"value": "www.swsresearch.com"}, "x": {"value": 16}, "y": {"value": 13}}},
        {"mark": {"type": "text", "align": "left", "baseline": "middle", "fontSize": 12, "color": "#595959", "font": "Noto Sans CJK SC"}, "encoding": {"text": {"value": "证券研究报告"}, "x": {"value": 170}, "y": {"value": 13}}},
        {"mark": {"type": "text", "align": "right", "baseline": "middle", "fontSize": 14, "color": "#404040", "font": "Noto Sans CJK SC"}, "encoding": {"text": {"value": "资料来源：wind，申万宏源研究"}, "x": {"value": 756}, "y": {"value": 16}}},
        {"mark": {"type": "text", "align": "left", "baseline": "middle", "fontSize": 11, "color": "#2F4E9A", "font": "Liberation Sans"}, "encoding": {"text": {"value": "7"}, "x": {"value": 766}, "y": {"value": 11}}}
      ]
    }
  ]
}
